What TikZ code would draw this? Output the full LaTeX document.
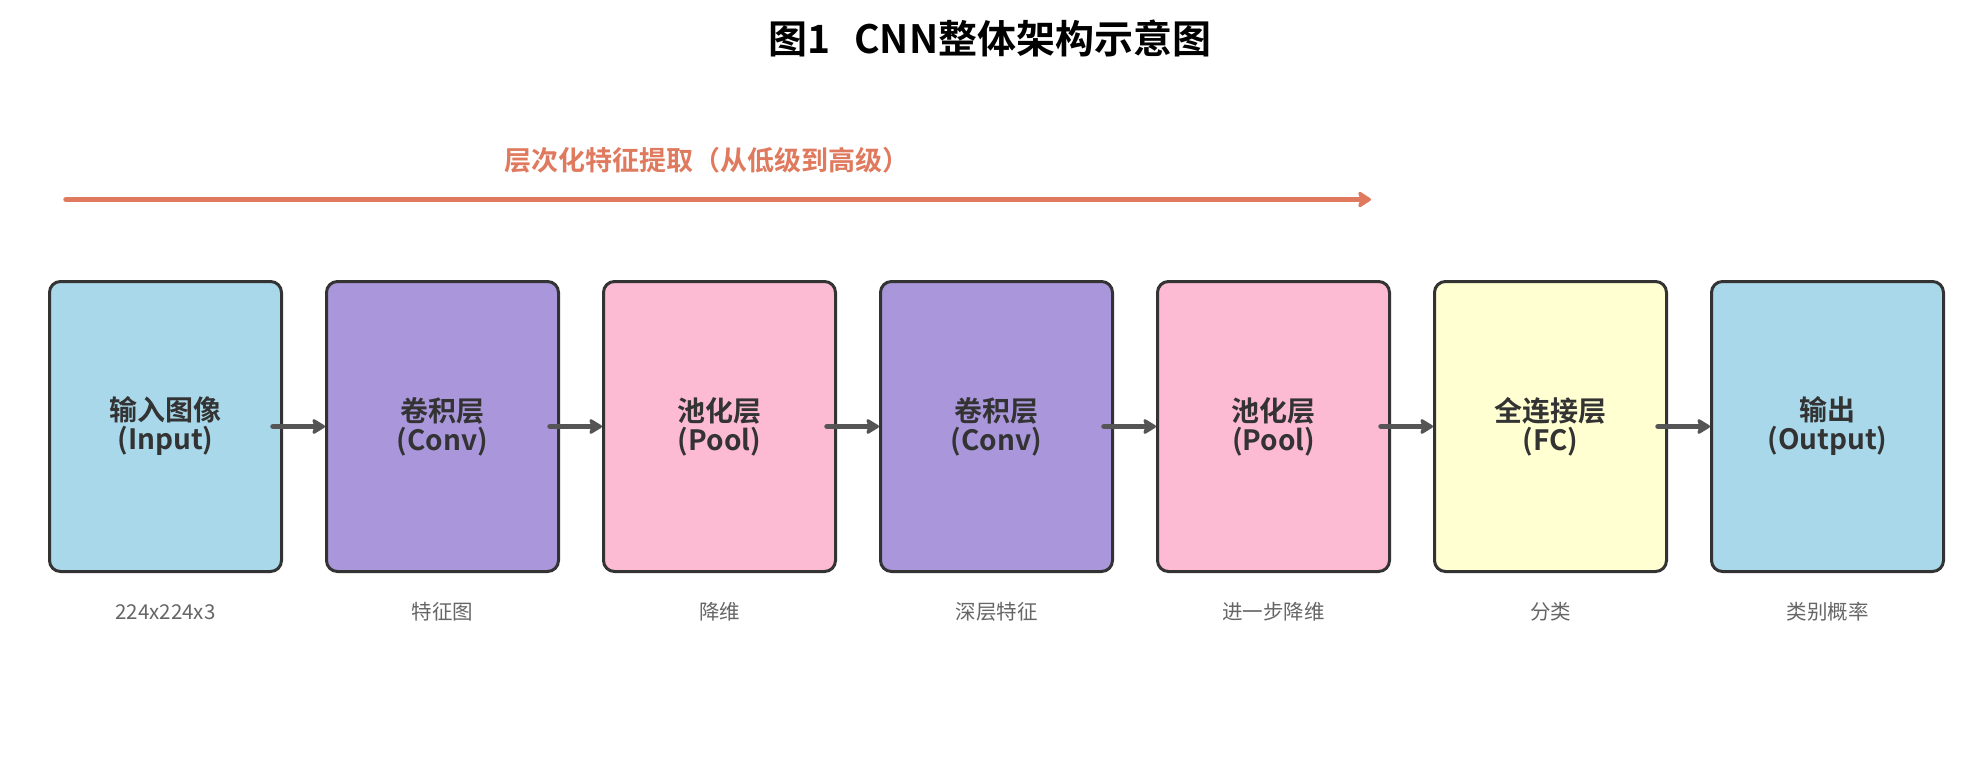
\documentclass[tikz,border=0pt]{standalone}
\usepackage{fontspec}
\setmainfont{Noto Sans CJK SC}[BoldFont={* Bold}]
\usetikzlibrary{arrows.meta,positioning}
\definecolor{cblue}{HTML}{A8D8EA}
\definecolor{cpurple}{HTML}{AA96DA}
\definecolor{cpink}{HTML}{FCBAD3}
\definecolor{cyellow}{HTML}{FFFFD2}
\definecolor{cborder}{HTML}{333333}
\definecolor{carrow}{HTML}{555555}
\definecolor{corange}{HTML}{E07A5F}
\definecolor{clabel}{HTML}{666666}
\tikzset{
  layerbox/.style={draw=cborder, line width=3pt, rounded corners=11pt,
    minimum width=232pt, minimum height=290pt, inner sep=0pt,
    text=cborder, align=center,
    font=\fontsize{28}{29}\selectfont\bfseries},
  sublabel/.style={text=clabel, font=\fontsize{20.5}{22}\selectfont, inner sep=0pt},
  flow/.style={draw=carrow, line width=5.5pt, line cap=round,
    -{Stealth[length=15pt,width=18pt,inset=3pt,round]}},
}
\begin{document}
\begin{tikzpicture}[x=1pt,y=-1pt]
\useasboundingbox (0,0) rectangle (1979,780);
\fill[white] (0,0) rectangle (1979,780);
\node[font=\fontsize{39}{42}\selectfont\bfseries, inner sep=0pt] (title) at (990,38) {图1\hspace{0.6em}CNN整体架构示意图};
\node[font=\fontsize{27}{30}\selectfont\bfseries, text=corange, inner sep=0pt] (hier) at (707,160) {层次化特征提取（从低级到高级）};
\coordinate (hs) at (66,199.5);
\coordinate (he) at (1371,199.5);
\draw[draw=corange, line width=5.5pt, line cap=round, -{Stealth[length=15pt,width=19pt,inset=3pt,round]}] (hs) -- (he);

\node[layerbox, fill=cblue]   (b1) at (165.5,426.5) {输入图像\\(Input)};
\node[layerbox, fill=cpurple] (b2) at (442.5,426.5) {卷积层\\(Conv)};
\node[layerbox, fill=cpink]   (b3) at (719.5,426.5) {池化层\\(Pool)};
\node[layerbox, fill=cpurple] (b4) at (996.5,426.5) {卷积层\\(Conv)};
\node[layerbox, fill=cpink]   (b5) at (1273.5,426.5) {池化层\\(Pool)};
\node[layerbox, fill=cyellow] (b6) at (1550.5,426.5) {全连接层\\(FC)};
\node[layerbox, fill=cblue]   (b7) at (1827.5,426.5) {输出\\(Output)};

\node[sublabel] (l1) at (165.5,612) {224x224x3};
\node[sublabel] (l2) at (442.5,612) {特征图};
\node[sublabel] (l3) at (719.5,612) {降维};
\node[sublabel] (l4) at (996.5,612) {深层特征};
\node[sublabel] (l5) at (1273.5,612) {进一步降维};
\node[sublabel] (l6) at (1550.5,612) {分类};
\node[sublabel] (l7) at (1827.5,612) {类别概率};

\foreach \a/\b in {b1/b2,b2/b3,b3/b4,b4/b5,b5/b6,b6/b7}
  \draw[flow] ([xshift=-10pt]\a.east) -- (\b.west);
\end{tikzpicture}
\end{document}
